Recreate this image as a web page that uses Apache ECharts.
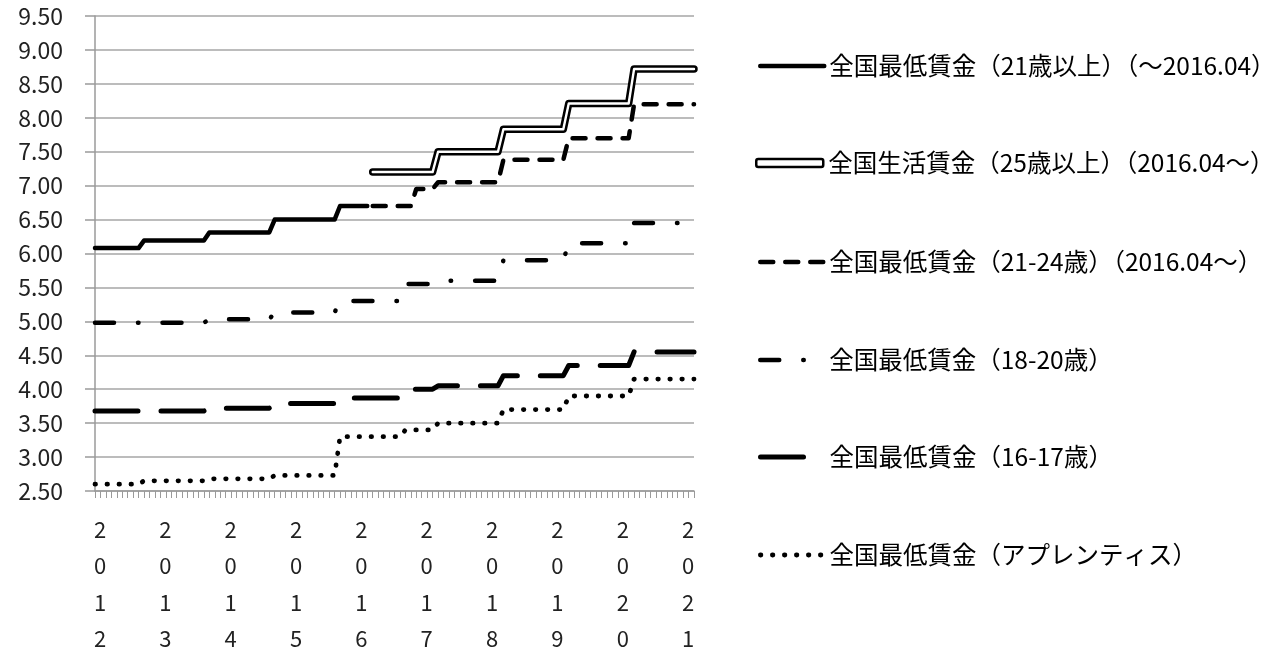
<!DOCTYPE html>
<html>
<head>
<meta charset="utf-8">
<script src="https://cdn.jsdelivr.net/npm/echarts/dist/echarts.min.js"></script>
<style>
html,body{margin:0;padding:0;background:#fff;}
#chart{width:1286px;height:649px;}
</style>
</head>
<body>
<div id="chart"></div>
<script>
// Monthly categories 2012.01 - 2021.03
const months = [
 '2012.01','2012.02','2012.03','2012.04','2012.05','2012.06','2012.07','2012.08','2012.09','2012.10','2012.11','2012.12',
 '2013.01','2013.02','2013.03','2013.04','2013.05','2013.06','2013.07','2013.08','2013.09','2013.10','2013.11','2013.12',
 '2014.01','2014.02','2014.03','2014.04','2014.05','2014.06','2014.07','2014.08','2014.09','2014.10','2014.11','2014.12',
 '2015.01','2015.02','2015.03','2015.04','2015.05','2015.06','2015.07','2015.08','2015.09','2015.10','2015.11','2015.12',
 '2016.01','2016.02','2016.03','2016.04','2016.05','2016.06','2016.07','2016.08','2016.09','2016.10','2016.11','2016.12',
 '2017.01','2017.02','2017.03','2017.04','2017.05','2017.06','2017.07','2017.08','2017.09','2017.10','2017.11','2017.12',
 '2018.01','2018.02','2018.03','2018.04','2018.05','2018.06','2018.07','2018.08','2018.09','2018.10','2018.11','2018.12',
 '2019.01','2019.02','2019.03','2019.04','2019.05','2019.06','2019.07','2019.08','2019.09','2019.10','2019.11','2019.12',
 '2020.01','2020.02','2020.03','2020.04','2020.05','2020.06','2020.07','2020.08','2020.09','2020.10','2020.11','2020.12',
 '2021.01','2021.02','2021.03'
];
const N = null;
const names = [
 '全国最低賃金（21歳以上）（～2016.04）',
 '全国生活賃金（25歳以上）（2016.04～）',
 '全国最低賃金（21-24歳）（2016.04～）',
 '全国最低賃金（18-20歳）',
 '全国最低賃金（16-17歳）',
 '全国最低賃金（アプレンティス）'
];
const yTicks = [2.5, 9.5, 0.5]; // min, max, step
const wage21plus = [
 6.08,6.08,6.08,6.08,6.08,6.08,6.08,6.08,6.08,6.19,6.19,6.19,
 6.19,6.19,6.19,6.19,6.19,6.19,6.19,6.19,6.19,6.31,6.31,6.31,
 6.31,6.31,6.31,6.31,6.31,6.31,6.31,6.31,6.31,6.50,6.50,6.50,
 6.50,6.50,6.50,6.50,6.50,6.50,6.50,6.50,6.50,6.70,6.70,6.70,
 6.70,6.70,6.70,N,N,N,N,N,N,N,N,N,
 N,N,N,N,N,N,N,N,N,N,N,N,
 N,N,N,N,N,N,N,N,N,N,N,N,
 N,N,N,N,N,N,N,N,N,N,N,N,
 N,N,N,N,N,N,N,N,N,N,N,N,
 N,N,N
];
const livingWage25 = [
 N,N,N,N,N,N,N,N,N,N,N,N,
 N,N,N,N,N,N,N,N,N,N,N,N,
 N,N,N,N,N,N,N,N,N,N,N,N,
 N,N,N,N,N,N,N,N,N,N,N,N,
 N,N,N,7.20,7.20,7.20,7.20,7.20,7.20,7.20,7.20,7.20,
 7.20,7.20,7.20,7.50,7.50,7.50,7.50,7.50,7.50,7.50,7.50,7.50,
 7.50,7.50,7.50,7.83,7.83,7.83,7.83,7.83,7.83,7.83,7.83,7.83,
 7.83,7.83,7.83,8.21,8.21,8.21,8.21,8.21,8.21,8.21,8.21,8.21,
 8.21,8.21,8.21,8.72,8.72,8.72,8.72,8.72,8.72,8.72,8.72,8.72,
 8.72,8.72,8.72
];
const wage21to24 = [
 N,N,N,N,N,N,N,N,N,N,N,N,
 N,N,N,N,N,N,N,N,N,N,N,N,
 N,N,N,N,N,N,N,N,N,N,N,N,
 N,N,N,N,N,N,N,N,N,N,N,N,
 N,N,N,6.70,6.70,6.70,6.70,6.70,6.70,6.70,6.70,6.95,
 6.95,6.95,6.95,7.05,7.05,7.05,7.05,7.05,7.05,7.05,7.05,7.05,
 7.05,7.05,7.05,7.38,7.38,7.38,7.38,7.38,7.38,7.38,7.38,7.38,
 7.38,7.38,7.38,7.70,7.70,7.70,7.70,7.70,7.70,7.70,7.70,7.70,
 7.70,7.70,7.70,8.20,8.20,8.20,8.20,8.20,8.20,8.20,8.20,8.20,
 8.20,8.20,8.20
];
const wage18to20 = [
 4.98,4.98,4.98,4.98,4.98,4.98,4.98,4.98,4.98,4.98,4.98,4.98,
 4.98,4.98,4.98,4.98,4.98,4.98,4.98,4.98,4.98,5.03,5.03,5.03,
 5.03,5.03,5.03,5.03,5.03,5.03,5.03,5.03,5.03,5.13,5.13,5.13,
 5.13,5.13,5.13,5.13,5.13,5.13,5.13,5.13,5.13,5.30,5.30,5.30,
 5.30,5.30,5.30,5.30,5.30,5.30,5.30,5.30,5.30,5.55,5.55,5.55,
 5.55,5.55,5.55,5.60,5.60,5.60,5.60,5.60,5.60,5.60,5.60,5.60,
 5.60,5.60,5.60,5.90,5.90,5.90,5.90,5.90,5.90,5.90,5.90,5.90,
 5.90,5.90,5.90,6.15,6.15,6.15,6.15,6.15,6.15,6.15,6.15,6.15,
 6.15,6.15,6.15,6.45,6.45,6.45,6.45,6.45,6.45,6.45,6.45,6.45,
 6.45,6.45,6.45
];
const wage16to17 = [
 3.68,3.68,3.68,3.68,3.68,3.68,3.68,3.68,3.68,3.68,3.68,3.68,
 3.68,3.68,3.68,3.68,3.68,3.68,3.68,3.68,3.68,3.72,3.72,3.72,
 3.72,3.72,3.72,3.72,3.72,3.72,3.72,3.72,3.72,3.79,3.79,3.79,
 3.79,3.79,3.79,3.79,3.79,3.79,3.79,3.79,3.79,3.87,3.87,3.87,
 3.87,3.87,3.87,3.87,3.87,3.87,3.87,3.87,3.87,4.00,4.00,4.00,
 4.00,4.00,4.00,4.05,4.05,4.05,4.05,4.05,4.05,4.05,4.05,4.05,
 4.05,4.05,4.05,4.20,4.20,4.20,4.20,4.20,4.20,4.20,4.20,4.20,
 4.20,4.20,4.20,4.35,4.35,4.35,4.35,4.35,4.35,4.35,4.35,4.35,
 4.35,4.35,4.35,4.55,4.55,4.55,4.55,4.55,4.55,4.55,4.55,4.55,
 4.55,4.55,4.55
];
const apprentice = [
 2.60,2.60,2.60,2.60,2.60,2.60,2.60,2.60,2.60,2.65,2.65,2.65,
 2.65,2.65,2.65,2.65,2.65,2.65,2.65,2.65,2.65,2.68,2.68,2.68,
 2.68,2.68,2.68,2.68,2.68,2.68,2.68,2.68,2.68,2.73,2.73,2.73,
 2.73,2.73,2.73,2.73,2.73,2.73,2.73,2.73,2.73,3.30,3.30,3.30,
 3.30,3.30,3.30,3.30,3.30,3.30,3.30,3.30,3.30,3.40,3.40,3.40,
 3.40,3.40,3.40,3.50,3.50,3.50,3.50,3.50,3.50,3.50,3.50,3.50,
 3.50,3.50,3.50,3.70,3.70,3.70,3.70,3.70,3.70,3.70,3.70,3.70,
 3.70,3.70,3.70,3.90,3.90,3.90,3.90,3.90,3.90,3.90,3.90,3.90,
 3.90,3.90,3.90,4.15,4.15,4.15,4.15,4.15,4.15,4.15,4.15,4.15,
 4.15,4.15,4.15
];

const FONT = '"Noto Sans CJK JP", "Noto Sans", sans-serif';
const dashStyles = {
  solid: { type: 'solid', width: 4.5 },
  dashed: { type: [13, 12], width: 4.5 },
  dashDot: { type: [19, 24, 0.5, 24], width: 4.5 },
  longDash: { type: [43, 23], width: 5 },
  dotted: { type: [0.5, 11.5], width: 4.8 }
};
function lineSeries(name, data, st, z) {
  return {
    name: name, type: 'line', data: data, symbol: 'none', showSymbol: false,
    connectNulls: false, silent: true, animation: false, z: z || 2,
    lineStyle: { color: '#000', width: st.width, type: st.type, cap: 'round', join: 'round' }
  };
}
const series = [
  lineSeries(names[5], apprentice, dashStyles.dotted),
  lineSeries(names[4], wage16to17, dashStyles.longDash),
  lineSeries(names[3], wage18to20, dashStyles.dashDot),
  lineSeries(names[2], wage21to24, dashStyles.dashed),
  lineSeries(names[0], wage21plus, dashStyles.solid),
  lineSeries(names[1], livingWage25, { type: 'solid', width: 7.5 }, 3),
  Object.assign(lineSeries('nlw-inner', livingWage25, { type: 'solid', width: 2.4 }, 4),
    { lineStyle: { color: '#fff', width: 2.4, cap: 'round', join: 'round' } })
];

const centers = [66, 163, 262, 360, 457, 555];
const legendStyles = [dashStyles.solid, null, dashStyles.dashed, dashStyles.dashDot, dashStyles.longDash, dashStyles.dotted];
const legends = names.map(function (n, i) {
  const base = {
    orient: 'vertical', left: 758, top: centers[i] - 15, padding: 0,
    itemWidth: 64, itemHeight: 14, selectedMode: false,
    textStyle: { fontFamily: FONT, fontSize: 24.5, color: '#000', lineHeight: 30 }
  };
  if (i === 1) {
    base.left = 755; base.itemWidth = 67; base.itemHeight = 8;
    base.data = [{ name: n, icon: 'roundRect', itemStyle: { color: '#fff', borderColor: '#000', borderWidth: 2.5 } }];
  } else {
    const st = legendStyles[i];
    base.data = [{ name: n }];
    base.lineStyle = { color: '#000', width: st.width, type: st.type, cap: 'round', opacity: 1 };
    base.itemStyle = { color: 'rgba(0,0,0,0)', borderColor: 'rgba(0,0,0,0)', borderWidth: 0, opacity: 0 };
  }
  return base;
});

const chart = echarts.init(document.getElementById('chart'), null, { renderer: 'canvas' });
chart.setOption({
  animation: false,
  backgroundColor: '#fff',
  grid: { left: 95, right: 592, top: 16, bottom: 158, containLabel: false, outerBoundsMode: 'none' },
  legend: legends,
  xAxis: {
    type: 'category', data: months, boundaryGap: false,
    axisLine: { show: true, lineStyle: { color: '#9a9a9a', width: 1.5 } },
    axisTick: { show: true, interval: 0, length: 7, lineStyle: { color: '#9a9a9a', width: 1 } },
    axisLabel: {
      show: true,
      interval: function (i) { return i % 12 === 0; },
      formatter: function (v) { return v.slice(0, 4).split('').join('\n'); },
      fontFamily: FONT, fontSize: 22, color: '#222', lineHeight: 36.5,
      margin: 20, padding: [0, 0, 0, 10], verticalAlign: 'top'
    },
    splitLine: { show: false }
  },
  yAxis: {
    type: 'value', min: yTicks[0], max: yTicks[1], interval: yTicks[2],
    axisLine: { show: true, lineStyle: { color: '#9a9a9a', width: 1.5 } },
    axisTick: { show: true, length: 10, lineStyle: { color: '#9a9a9a', width: 1.5 } },
    axisLabel: {
      formatter: function (v) { return v.toFixed(2); },
      fontFamily: FONT, fontSize: 23, color: '#222', margin: 32
    },
    splitLine: { show: true, lineStyle: { color: '#a6a6a6', width: 1.5 } }
  },
  series: series
});
</script>
</body>
</html>
